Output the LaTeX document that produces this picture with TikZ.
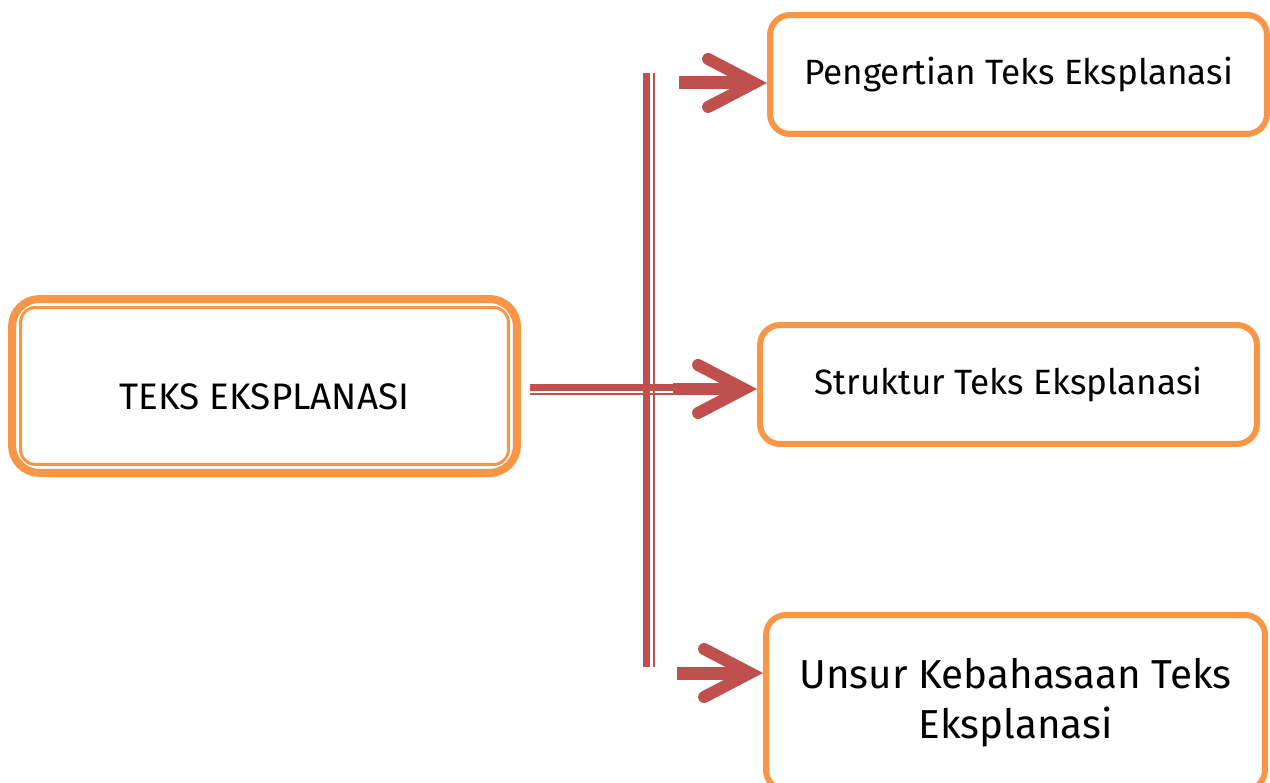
\documentclass[tikz,border=0pt]{standalone}
\usepackage{fontspec}
\setmainfont{Fira Sans}
\usetikzlibrary{arrows.meta,calc}
\definecolor{boxorange}{HTML}{F79646}
\definecolor{arrred}{HTML}{C0504D}

\begin{document}
\begin{tikzpicture}[x=0.02cm,y=-0.02cm,
  box/.style={draw=boxorange,line width=0.12cm,rounded corners=0.4cm,fill=white,align=center,inner sep=0pt,minimum width=9.94cm,minimum height=2.38cm},
  big/.style={arrred,line width=0.26cm,-{Straight Barb[length=0.92cm,width=0.96cm,line width=0.24cm,line cap=round,line join=miter]}},
  bar/.style={arrred,line width=0.14cm},
  barthin/.style={arrred,line width=0.04cm}]
\useasboundingbox (0,0) rectangle (1270,783);

\node[box,line width=0.16cm,rounded corners=0.55cm,minimum width=10.1cm,minimum height=3.48cm,text height=0.96cm,text depth=0pt,font=\fontsize{21}{25}\selectfont](k0) at (264.5,386) {TEKS EKSPLANASI};
\draw[boxorange,line width=0.06cm,rounded corners=0.3cm] ($(k0.north west)+(12.5,12.5)$) rectangle ($(k0.south east)+(-12.5,-12.5)$);

\node[box,text height=0.42cm,text depth=0pt,font=\fontsize{20}{24}\selectfont](k1) at (1018.5,74.5) {Pengertian Teks Eksplanasi};
\node[box,text height=0.42cm,text depth=0pt,font=\fontsize{20}{24}\selectfont](k2) at (1008.5,384.5) {Struktur Teks Eksplanasi};
\node[box,minimum width=9.98cm,minimum height=3.5cm,font=\fontsize{23}{28.5}\selectfont](k3) at (1015.5,702.5) {Unsur Kebahasaan Teks\\Eksplanasi};

\coordinate (h1) at (673,387.5);
\draw[bar] ($(k0.east |- h1)+(9,0)$) -- (h1);
\draw[barthin] ($(k0.east |- h1)+(9,7)$) -- ($(h1)+(9,7)$);

\coordinate (v1) at (646.5,73);
\coordinate (v2) at (646.5,667);
\draw[bar] (v1) -- (v2);
\draw[barthin] ($(v1)+(7.5,0)$) -- ($(v2)+(7.5,0)$);

\coordinate (a1) at (679,83);
\coordinate (a2) at (673,389);
\coordinate (a3) at (677,673);
\draw[big] (a1) -- (a1 -| k1.west);
\draw[big] (a2) -- (a2 -| k2.west);
\draw[big] (a3) -- (a3 -| k3.west);
\end{tikzpicture}
\end{document}
